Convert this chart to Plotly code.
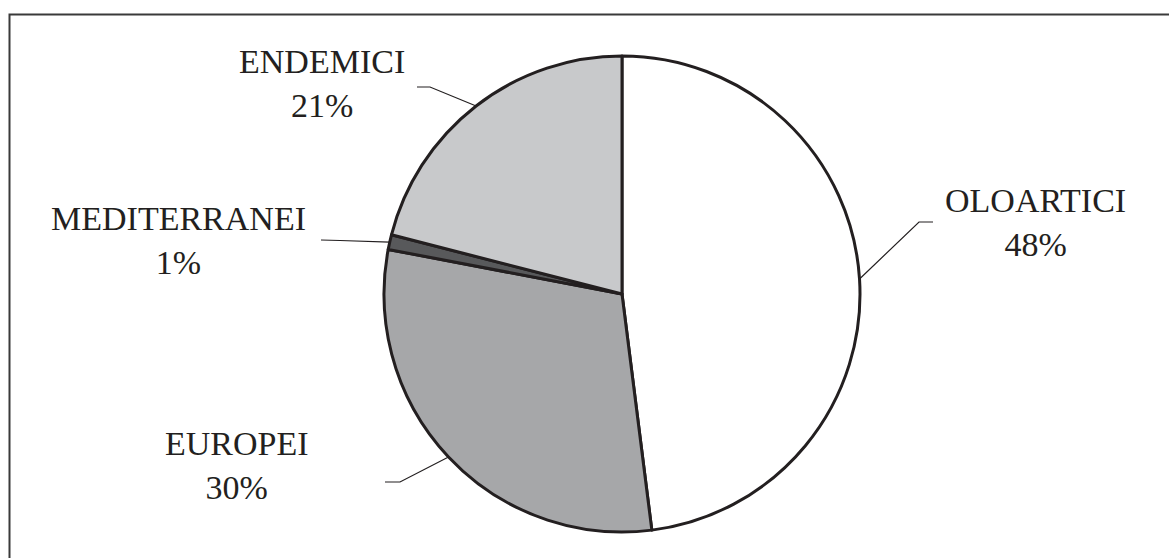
import math
import plotly.graph_objects as go

W, H = 1169, 558

labels = ["OLOARTICI", "EUROPEI", "MEDITERRANEI", "ENDEMICI"]
values = [48, 30, 1, 21]
pct_text = ["48%", "30%", "1%", "21%"]
colors = ["#ffffff", "#a6a7a9", "#58595b", "#c8c9cb"]

# layout constants (pixels)
CX, CY, R = 622, 294, 238
label_pos = {  # text block centre
    "OLOARTICI": (1035, 222),
    "EUROPEI": (237, 465),
    "MEDITERRANEI": (178, 240),
    "ENDEMICI": (322, 83),
}
elbow = {  # (start of horizontal segment, elbow point)
    "OLOARTICI": ((933, 222), (919, 222)),
    "EUROPEI": ((385, 482), (400, 482)),
    "MEDITERRANEI": ((321, 240), (340, 240.5)),
    "ENDEMICI": ((417, 87), (430, 87)),
}

def px(x):
    return x / W

def py(y):
    return 1 - y / H

fig = go.Figure(go.Pie(
    labels=labels, values=values, sort=False, direction="clockwise", rotation=0,
    marker=dict(colors=colors, line=dict(color="#231f20", width=3)),
    textinfo="none", hoverinfo="label+percent",
    domain=dict(x=[px(CX - R), px(CX + R)], y=[py(CY + R), py(CY - R)]),
    showlegend=False,
))

total = sum(values)
cum = 0
shapes = [dict(type="rect", xref="paper", yref="paper",
               x0=px(9.5), x1=1.05, y0=-0.05, y1=py(14.5),
               line=dict(color="#3a3a3a", width=2), layer="below")]
annotations = []
for lab, v, t in zip(labels, values, pct_text):
    mid = (cum + v / 2) / total * 2 * math.pi
    cum += v
    ex = CX + R * math.sin(mid)
    ey = CY - R * math.cos(mid)
    (sx, sy), (bx, by) = elbow[lab]
    shapes.append(dict(type="path", xref="paper", yref="paper",
                       path=f"M {px(sx)},{py(sy)} L {px(bx)},{py(by)} L {px(ex)},{py(ey)}",
                       line=dict(color="#231f20", width=1.2)))
    lx, ly = label_pos[lab]
    annotations.append(dict(x=px(lx), y=py(ly), xref="paper", yref="paper",
                            text=f"{lab}<br>{t}", showarrow=False, align="center",
                            xanchor="center", yanchor="middle",
                            font=dict(family="'Liberation Serif', serif",
                                      size=34, color="#231f20")))

fig.update_layout(width=W, height=H, margin=dict(l=0, r=0, t=0, b=0),
                  paper_bgcolor="white", plot_bgcolor="white",
                  font=dict(family="'Liberation Serif', serif"),
                  shapes=shapes, annotations=annotations)
fig.write_html("out.html")
